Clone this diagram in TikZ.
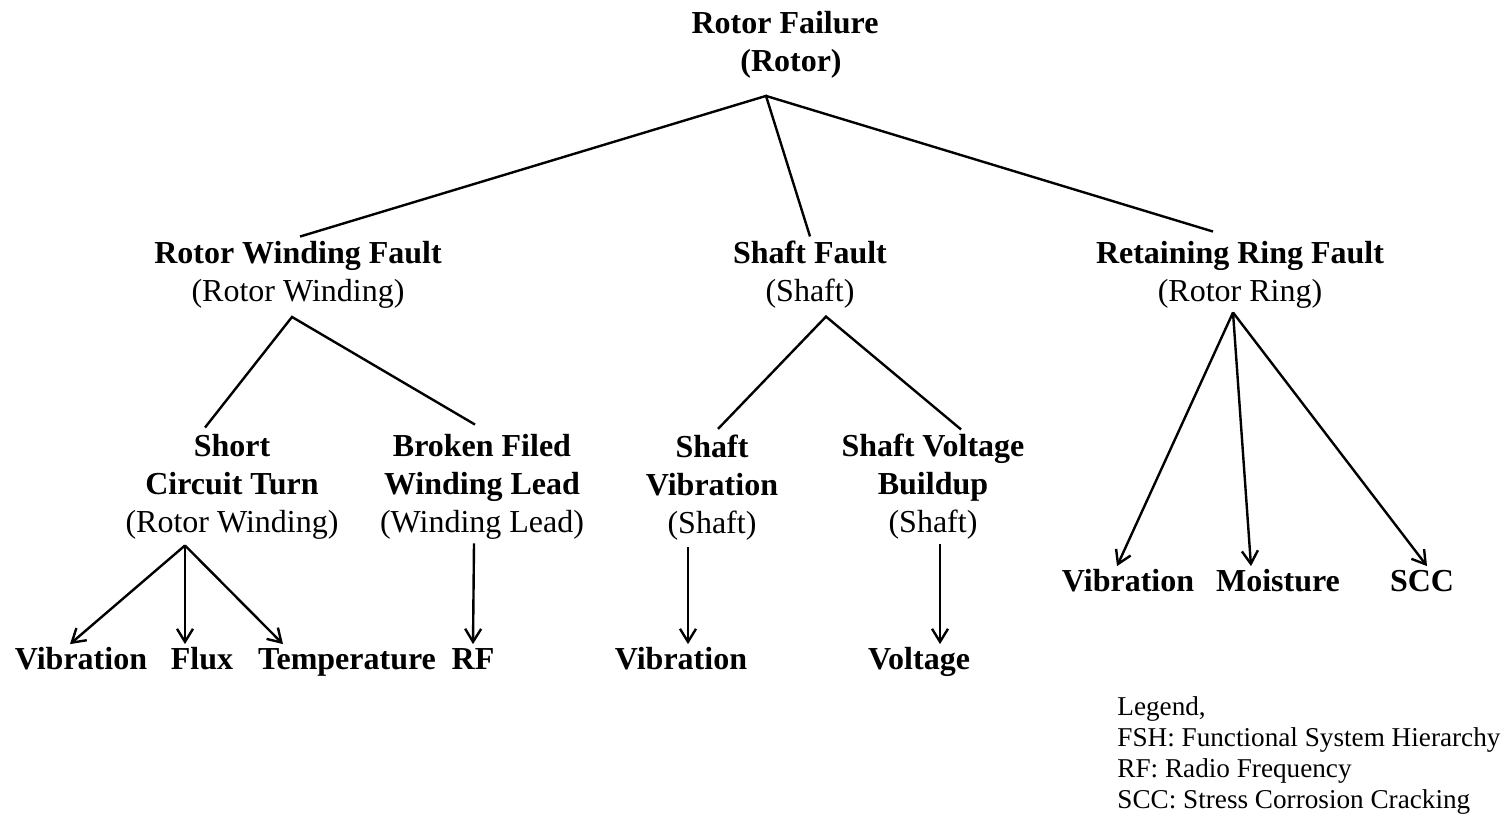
\documentclass[tikz,border=0pt]{standalone}
\usepackage{fontspec}
\setmainfont{Liberation Serif}
\usetikzlibrary{arrows.meta}
\begin{document}
\begin{tikzpicture}[x=0.5pt,y=-0.5pt,
  every node/.style={font=\fontsize{16}{19}\selectfont, inner sep=2pt},
  fault/.style={align=center},
  bold/.style={font=\fontsize{16}{19}\selectfont\bfseries},
  leaf/.style={bold, text height=0.7em, text depth=0.25em, inner sep=5.5pt},
  link/.style={line width=1.2pt},
  arr/.style={line width=1.2pt, -{Straight Barb[length=6.5pt,width=8pt]}}]
  \useasboundingbox (0,0) rectangle (1509,815);
  % top event
  \node[fault, bold] (root) at (785,44.5) {Rotor Failure\\\hspace*{6pt}(Rotor)};
  % second level
  \node[fault] (rw) at (298,274.5) {\textbf{Rotor Winding Fault}\\(Rotor Winding)};
  \node[fault] (shaft) at (810,274.5) {\textbf{Shaft Fault}\\(Shaft)};
  \node[fault] (ring) at (1240,274.5) {\textbf{Retaining Ring Fault}\\(Rotor Ring)};
  % third level
  \node[fault] (sct) at (232,486.5) {\textbf{Short}\\\textbf{Circuit Turn}\\(Rotor Winding)};
  \node[fault] (bfw) at (482,486.5) {\textbf{Broken Filed}\\\textbf{Winding Lead}\\(Winding Lead)};
  \node[fault] (sv) at (712,488) {\textbf{Shaft}\\\textbf{Vibration}\\(Shaft)};
  \node[fault] (svb) at (933,486.5) {\textbf{Shaft Voltage}\\\textbf{Buildup}\\(Shaft)};
  % symptoms
  \node[leaf] (vib1) at (81,665) {Vibration};
  \node[leaf] (flux) at (202,665) {Flux};
  \node[leaf] (temp) at (347,665) {Temperature};
  \node[leaf] (rf) at (473,665) {RF};
  \node[leaf] (vib2) at (681,665) {Vibration};
  \node[leaf] (volt) at (919,665) {Voltage};
  \node[leaf] (vib3) at (1128,587) {Vibration};
  \node[leaf] (moist) at (1278,587) {Moisture};
  \node[leaf] (scc) at (1422,587) {SCC};
  % legend
  \node[anchor=north west, align=left, inner sep=0pt,
        font=\fontsize{13.6}{15.5}\selectfont] (legend) at (1117,696)
    {Legend,\\FSH: Functional System Hierarchy\\RF: Radio Frequency\\SCC: Stress Corrosion Cracking};

  % tree links
  \draw[link] ([xshift=1pt]rw.north) -- ([xshift=-9.5pt,yshift=-6.75pt]root.south) -- (shaft.north);
  \draw[link] ([xshift=-9.5pt,yshift=-6.75pt]root.south) -- ([xshift=-13.5pt,yshift=2.5pt]ring.north);
  \draw[link] ([xshift=-13.5pt,yshift=1pt]sct.north) -- ([xshift=-3pt,yshift=-2.25pt]rw.south) -- ([xshift=-3.5pt,yshift=2.5pt]bfw.north);
  \draw[link] ([xshift=3pt,yshift=1pt]sv.north) -- ([xshift=8pt,yshift=-2pt]shaft.south) -- ([xshift=14pt]svb.north);

  % symptom arrows
  \foreach \to/\dx in {vib1/-5.5pt, flux/-8.5pt, temp/-32pt}
    \draw[arr] ([xshift=-23.5pt,yshift=-1pt]sct.south) -- ([xshift=\dx]\to.north);
  \draw[arr] ([xshift=-4pt]bfw.south) -- (rf.north);
  \draw[arr] ([xshift=-12pt,yshift=-1pt]sv.south) -- ([xshift=3.5pt]vib2.north);
  \draw[arr] ([xshift=3.5pt]svb.south) -- ([xshift=10.5pt]volt.north);
  \foreach \to/\dx in {vib3/-5.5pt, moist/-13.5pt, scc/2.5pt}
    \draw[arr] ([xshift=-3.5pt]ring.south) -- ([xshift=\dx]\to.north);
\end{tikzpicture}
\end{document}
